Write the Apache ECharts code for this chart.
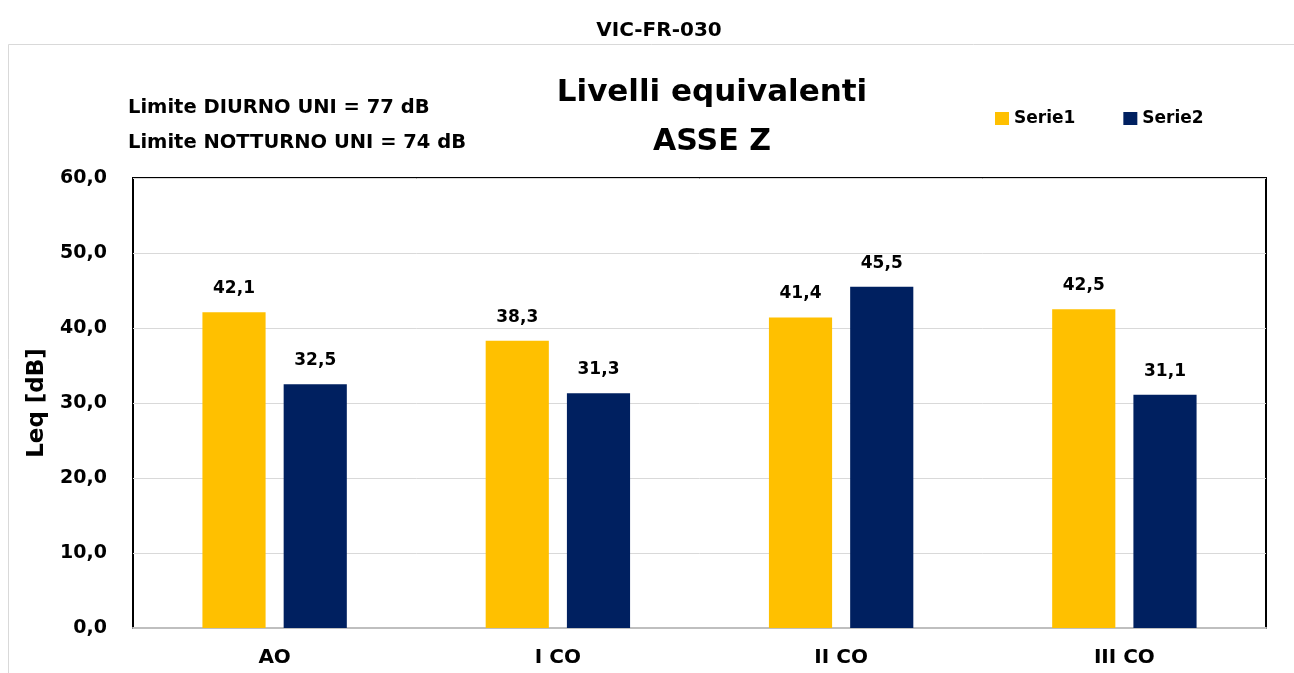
<!DOCTYPE html>
<html><head><meta charset="utf-8">
<script src="https://cdn.jsdelivr.net/npm/echarts@6/dist/echarts.min.js"></script>
<style>html,body{margin:0;padding:0;background:#fff}#c{width:1294px;height:673px}</style>
</head><body><div id="c"></div>
<script>
const categories = ['AO', 'I CO', 'II CO', 'III CO'];
const serie1 = [42.1, 38.3, 41.4, 42.5];
const serie2 = [32.5, 31.3, 45.5, 31.1];
const seriesNames = ['Serie1', 'Serie2'];
const FONT = 'DejaVu Sans';
const fmt = v => v.toFixed(1).replace('.', ',');
const chart = echarts.init(document.getElementById('c'));
const ts = (size) => ({ fontFamily: FONT, fontSize: size, fontWeight: 'bold', color: '#000' });
chart.setOption({
  backgroundColor: '#fff',
  textStyle: { fontFamily: FONT, fontWeight: 'bold', color: '#000' },
  title: [
    { text: 'VIC-FR-030', left: 654, top: 16, textAlign: 'center', textStyle: ts(20) },
    { text: 'Livelli equivalenti', left: 707, top: 72, textAlign: 'center', textStyle: ts(31) },
    { text: 'ASSE Z', left: 707, top: 122, textAlign: 'center', textStyle: ts(30) },
    { text: 'Limite DIURNO UNI = 77 dB', left: 123, top: 93, textStyle: ts(19.5) },
    { text: 'Limite NOTTURNO UNI = 74 dB', left: 123, top: 128, textStyle: ts(19.5) }
  ],
  graphic: [
    { type: 'rect', shape: { x: 8.5, y: 44.5, width: 1300, height: 700 },
      style: { fill: 'none', stroke: '#d9d9d9', lineWidth: 1 }, z: -10 }
  ],
  legend: {
    data: seriesNames, left: 990, top: 105, itemWidth: 14, itemHeight: 13, itemGap: 48,
    icon: 'rect', textStyle: ts(17)
  },
  grid: { left: 133, right: 28, top: 178, bottom: 45, show: true,
    borderColor: '#000', borderWidth: 2, backgroundColor: '#fff' },
  xAxis: {
    type: 'category', data: categories,
    axisTick: { show: false },
    axisLine: { show: true, lineStyle: { color: '#bfbfbf', width: 2 } },
    axisLabel: Object.assign(ts(20), { margin: 20 })
  },
  yAxis: {
    type: 'value', min: 0, max: 60, interval: 10,
    name: 'Leq [dB]', nameLocation: 'middle', nameGap: 84, nameRotate: 90,
    nameTextStyle: ts(23),
    axisLine: { show: false }, axisTick: { show: false },
    axisLabel: Object.assign(ts(19), { margin: 26, formatter: v => fmt(v) }),
    splitLine: { lineStyle: { color: '#d9d9d9', width: 1 } }
  },
  series: [
    { name: seriesNames[0], type: 'bar', data: serie1, barWidth: '22.3%', barGap: '28.6%',
      itemStyle: { color: '#ffc000' },
      label: Object.assign(ts(17), { show: true, position: 'top', distance: 15, formatter: p => fmt(p.value) }) },
    { name: seriesNames[1], type: 'bar', data: serie2, barWidth: '22.3%', barGap: '28.6%',
      itemStyle: { color: '#002060' },
      label: Object.assign(ts(17), { show: true, position: 'top', distance: 15, formatter: p => fmt(p.value) }) }
  ]
});
</script></body></html>
